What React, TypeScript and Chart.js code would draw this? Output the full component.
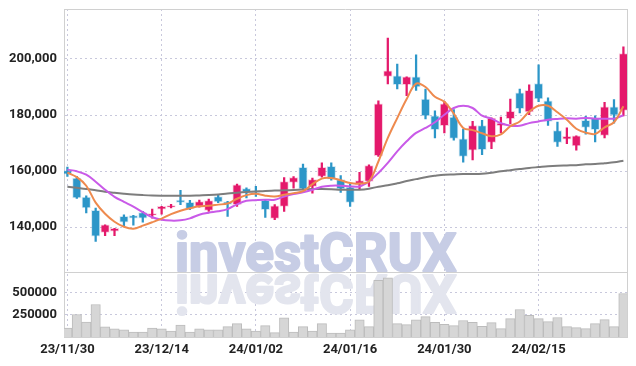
import React, { useEffect, useRef } from 'react';
import { Chart, registerables } from 'chart.js';

Chart.register(...registerables);

const dates = [
  '23/11/30', '23/12/01', '23/12/04', '23/12/05', '23/12/06', '23/12/07', '23/12/08', '23/12/11', '23/12/12', '23/12/13',
  '23/12/14', '23/12/15', '23/12/18', '23/12/19', '23/12/20', '23/12/21', '23/12/22', '23/12/26', '23/12/27', '23/12/28',
  '24/01/02', '24/01/03', '24/01/04', '24/01/05', '24/01/08', '24/01/09', '24/01/10', '24/01/11', '24/01/12', '24/01/15',
  '24/01/16', '24/01/17', '24/01/18', '24/01/19', '24/01/22', '24/01/23', '24/01/24', '24/01/25', '24/01/26', '24/01/29',
  '24/01/30', '24/01/31', '24/02/01', '24/02/02', '24/02/05', '24/02/06', '24/02/07', '24/02/08', '24/02/13', '24/02/14',
  '24/02/15', '24/02/16', '24/02/19', '24/02/20', '24/02/21', '24/02/22', '24/02/23', '24/02/26', '24/02/27', '24/02/28',
];

const openP = [
  160200, 157500, 150700, 146000, 138100, 138500, 143800, 144100, 145200, 144200,
  146400, 147100, 149600, 148800, 147400, 145900, 150900, 149000, 148000, 153700,
  153000, 149500, 143100, 147400, 155900, 161300, 154500, 158100, 161700, 156900,
  154300, 155100, 156300, 165500, 193800, 194000, 190800, 193600, 185700, 179700,
  176200, 179300, 171500, 167400, 176200, 170200, 176200, 178700, 187900, 181100,
  191200, 185100, 174400, 171400, 169000, 178100, 179000, 172700, 182900, 181600,
];
const highP = [
  161400, 158100, 151100, 146800, 140800, 139500, 144400, 144200, 145600, 146400,
  147400, 148100, 153100, 149500, 149600, 150000, 151500, 149200, 155300, 154000,
  154500, 149800, 148000, 157700, 158000, 162500, 157500, 162900, 162900, 158400,
  155500, 159500, 162200, 185100, 207500, 198200, 193600, 201500, 189300, 181500,
  184900, 181900, 175000, 177700, 178100, 179000, 179300, 185700, 189300, 190800,
  197900, 186100, 177500, 175400, 172600, 179500, 179700, 184500, 185500, 204300,
];
const lowP = [
  158100, 150200, 145000, 134900, 136900, 136900, 140500, 140700, 141700, 143200,
  144600, 146800, 148000, 146200, 147100, 145600, 148700, 143800, 147400, 150400,
  150900, 143400, 142600, 145600, 153900, 153300, 152100, 157800, 156700, 152400,
  147400, 153300, 154500, 165200, 191100, 189300, 186900, 188800, 178600, 171800,
  173600, 171000, 163200, 164000, 165800, 168000, 173600, 176800, 180700, 180100,
  184800, 176300, 168800, 169800, 167400, 173200, 170400, 171800, 177100, 179700,
];
const closeP = [
  158900, 150400, 146800, 136700, 140800, 139500, 141700, 143200, 143200, 144800,
  147400, 147700, 148800, 146600, 149100, 149400, 149000, 148100, 155100, 152500,
  152300, 146200, 147600, 156200, 157700, 153600, 156900, 161300, 157100, 153600,
  148800, 156600, 161900, 184000, 195800, 190800, 193600, 190000, 179700, 174800,
  184000, 171600, 165200, 176200, 167600, 178900, 177100, 181300, 182300, 188800,
  185700, 177700, 170200, 172400, 172600, 175600, 174800, 182900, 179900, 201900,
];

const volume = [
  102000, 254000, 170000, 367000, 114000, 91000, 80000, 57000, 57000, 102000,
  91000, 68000, 136000, 57000, 91000, 80000, 80000, 117000, 152000, 91000,
  68000, 129000, 49000, 216000, 57000, 117000, 68000, 152000, 45000, 45000,
  80000, 193000, 117000, 640000, 670000, 152000, 140000, 193000, 231000, 167000,
  144000, 129000, 186000, 167000, 121000, 163000, 95000, 208000, 311000, 246000,
  208000, 174000, 220000, 117000, 106000, 95000, 152000, 197000, 117000, 492000,
];

const ma5 = [
  159400, 157800, 154750, 148700, 144750, 141900, 140100, 139400, 140500, 141700,
  143000, 144600, 145800, 146700, 147400, 147600, 148000, 148400, 150100, 151400,
  151900, 151200, 150900, 151500, 152100, 152800, 155300, 157300, 157500, 156700,
  155700, 155500, 156300, 163400, 171800, 178900, 185700, 191200, 190000, 186500,
  184750, 180500, 175400, 174600, 173500, 172400, 173100, 176000, 177700, 181200,
  183300, 183300, 181000, 178300, 175100, 173700, 173250, 175600, 177400, 183100,
];
const ma20 = [
  160500, 159900, 158700, 156200, 153300, 150800, 149000, 147300, 145300, 143500,
  142600, 142300, 142400, 143100, 144400, 145100, 145600, 146400, 148100, 149400,
  149600, 149750, 149750, 150900, 151800, 152400, 153300, 154400, 154750, 154750,
  154500, 154500, 156300, 159300, 162900, 167000, 170600, 173600, 175400, 177400,
  180100, 182500, 183300, 182500, 179750, 178700, 177100, 176200, 176200, 177100,
  177700, 178300, 178600, 178800, 178700, 178900, 178700, 178700, 178700, 179900,
];
const ma60 = [
  154400, 154000, 153600, 153100, 152600, 152250, 151900, 151600, 151400, 151250,
  151200, 151200, 151200, 151200, 151300, 151400, 151600, 152000, 152250, 152500,
  152700, 152900, 153000, 153100, 153250, 153400, 153600, 153600, 153500, 153300,
  153300, 153300, 153700, 154400, 154900, 155600, 156400, 157100, 157800, 158300,
  158700, 158800, 158900, 158900, 159000, 159400, 159900, 160300, 160700, 161100,
  161400, 161700, 161900, 162000, 162100, 162400, 162500, 162800, 163100, 163700,
];

const priceTicks = [140000, 160000, 180000, 200000];
const volumeTicks = [250000, 500000];
const dateTickIdx = [0, 10, 20, 30, 40, 50];

const UP = '#e4196b';
const DOWN = '#2c96c8';
const GRID = '#c8c8dc';
const FRAME = '#d0d0d0';
const TICK_FONT = { family: 'Roboto, "Noto Sans", sans-serif', size: 13, weight: 'bold' as const };

export default function App() {
  const ref = useRef<HTMLCanvasElement>(null);

  useEffect(() => {
    const canvas = ref.current;
    if (!canvas) return;
    const idx = dates.map((_, i) => i);
    const up = idx.map((i) => closeP[i] >= openP[i]);
    const colors = up.map((u) => (u ? UP : DOWN));
    const halos = up.map((u) => (u ? 'rgba(228,25,107,0.22)' : 'rgba(44,150,200,0.22)'));

    const decor = {
      id: 'decor',
      beforeDatasetsDraw(chart: any) {
        const { ctx, chartArea } = chart;
        const sep = chart.scales.y.bottom;
        ctx.save();
        ctx.beginPath();
        ctx.rect(chartArea.left, chartArea.top, chartArea.right - chartArea.left, chartArea.bottom - chartArea.top);
        ctx.clip();
        ctx.font = 'bold 54px Roboto, sans-serif';
        ctx.textBaseline = 'alphabetic';
        ctx.textAlign = 'left';
        ctx.lineJoin = 'round';
        const txt = 'investCRUX';
        const m = ctx.measureText(txt);
        const inkW = m.actualBoundingBoxRight + m.actualBoundingBoxLeft;
        const sx = 279 / inkW;
        const x0 = chartArea.left + 113;
        ctx.save();
        ctx.translate(x0, sep - 1.5);
        ctx.scale(sx, 1);
        ctx.fillStyle = '#c7cde5';
        ctx.strokeStyle = '#c7cde5';
        ctx.lineWidth = 2.2;
        ctx.fillText(txt, m.actualBoundingBoxLeft, 0);
        ctx.strokeText(txt, m.actualBoundingBoxLeft, 0);
        ctx.restore();
        ctx.save();
        ctx.translate(x0, sep + 3);
        ctx.scale(sx, -1);
        ctx.fillStyle = '#e3e5ee';
        ctx.strokeStyle = '#e3e5ee';
        ctx.lineWidth = 2.2;
        ctx.fillText(txt, m.actualBoundingBoxLeft, 0);
        ctx.strokeText(txt, m.actualBoundingBoxLeft, 0);
        ctx.restore();
        ctx.restore();
      },
      afterDatasetsDraw(chart: any) {
        const { ctx, chartArea } = chart;
        const sep = Math.round(chart.scales.y.bottom) + 0.5;
        ctx.save();
        ctx.strokeStyle = FRAME;
        ctx.lineWidth = 1;
        ctx.beginPath();
        ctx.moveTo(chartArea.left, Math.round(chartArea.top) + 0.5);
        ctx.lineTo(chartArea.right, Math.round(chartArea.top) + 0.5);
        ctx.moveTo(Math.round(chartArea.right) + 0.5, chartArea.top);
        ctx.lineTo(Math.round(chartArea.right) + 0.5, chartArea.bottom);
        ctx.moveTo(chartArea.left, sep);
        ctx.lineTo(chartArea.right, sep);
        ctx.stroke();
        ctx.restore();
      },
    };

    const fitY = (s: any) => {
      s.width = 64;
      s.paddingTop = 0;
      s.paddingBottom = 0;
    };

    const chart = new Chart(canvas, {
      type: 'bar',
      data: {
        datasets: [
          {
            type: 'line',
            label: 'MA5',
            data: idx.map((i) => ({ x: i, y: ma5[i] })),
            yAxisID: 'y',
            borderColor: '#ee8a4e',
            borderWidth: 2,
            pointRadius: 0,
            tension: 0.35,
            fill: false,
            order: 0,
          },
          {
            type: 'line',
            label: 'MA20',
            data: idx.map((i) => ({ x: i, y: ma20[i] })),
            yAxisID: 'y',
            borderColor: '#c95ae8',
            borderWidth: 2,
            pointRadius: 0,
            tension: 0.35,
            fill: false,
            order: 0,
          },
          {
            type: 'line',
            label: 'MA60',
            data: idx.map((i) => ({ x: i, y: ma60[i] })),
            yAxisID: 'y',
            borderColor: '#7d7d7d',
            borderWidth: 2,
            pointRadius: 0,
            tension: 0.35,
            fill: false,
            order: 0,
          },
          {
            type: 'bar',
            label: 'body',
            data: idx.map((i) => ({ x: i, y: [openP[i], closeP[i]] })),
            yAxisID: 'y',
            backgroundColor: colors,
            borderColor: halos,
            borderWidth: 1,
            borderSkipped: false,
            barThickness: 8.5,
            grouped: false,
            order: 1,
          },
          {
            type: 'bar',
            label: 'wick',
            data: idx.map((i) => ({ x: i, y: [lowP[i], highP[i]] })),
            yAxisID: 'y',
            backgroundColor: colors,
            borderWidth: 0,
            barThickness: 1.6,
            grouped: false,
            order: 2,
          },
          {
            type: 'bar',
            label: 'volume',
            data: idx.map((i) => ({ x: i, y: volume[i] })),
            yAxisID: 'yv',
            backgroundColor: '#d6d6d6',
            borderColor: '#bcbcbc',
            borderWidth: 1,
            borderSkipped: 'bottom',
            barThickness: 9.4,
            grouped: false,
            order: 3,
          },
        ] as any,
      },
      options: {
        animation: false,
        responsive: false,
        maintainAspectRatio: false,
        layout: { padding: { top: 9, right: 9, left: 0, bottom: 0 } },
        plugins: { legend: { display: false }, tooltip: { enabled: false } },
        scales: {
          x: {
            type: 'linear',
            min: -0.36,
            max: 59.38,
            offset: false,
            afterBuildTicks: (s: any) => {
              s.ticks = dateTickIdx.map((v) => ({ value: v }));
            },
            afterFit: (s: any) => {
              s.height = 29;
              s.paddingLeft = 0;
              s.paddingRight = 0;
            },
            grid: { color: GRID, lineWidth: 1, drawTicks: false, offset: false },
            border: { display: true, color: FRAME, dash: [2, 3] },
            ticks: {
              autoSkip: false,
              maxRotation: 0,
              padding: 5,
              color: '#222',
              font: TICK_FONT,
              callback: (v: any) => dates[Number(v)] ?? '',
            },
          },
          y: {
            type: 'linear',
            position: 'left',
            stack: 'main',
            stackWeight: 263.4,
            weight: 2,
            min: 123800,
            max: 217850,
            afterBuildTicks: (s: any) => {
              s.ticks = priceTicks.map((v) => ({ value: v }));
            },
            afterFit: fitY,
            grid: { color: GRID, lineWidth: 1, drawTicks: false },
            border: { display: true, color: FRAME, dash: [2, 3] },
            ticks: {
              padding: 7,
              color: '#222',
              font: TICK_FONT,
              callback: (v: any) => Number(v).toLocaleString('en-US'),
            },
          },
          yv: {
            type: 'linear',
            position: 'left',
            stack: 'main',
            stackWeight: 64.6,
            weight: 1,
            min: 0,
            max: 730000,
            afterBuildTicks: (s: any) => {
              s.ticks = volumeTicks.map((v) => ({ value: v }));
            },
            afterFit: fitY,
            grid: { color: GRID, lineWidth: 1, drawTicks: false },
            border: { display: true, color: FRAME, dash: [2, 3] },
            ticks: {
              padding: 7,
              color: '#222',
              font: TICK_FONT,
              callback: (v: any) => String(v),
            },
          },
        },
      } as any,
      plugins: [decor],
    });

    return () => chart.destroy();
  }, []);

  return (
    <div style={{ position: 'absolute', left: 0, top: 0, width: 636, height: 366, background: '#fff' }}>
      <canvas ref={ref} width={636} height={366} style={{ display: 'block', width: 636, height: 366 }} />
    </div>
  );
}
